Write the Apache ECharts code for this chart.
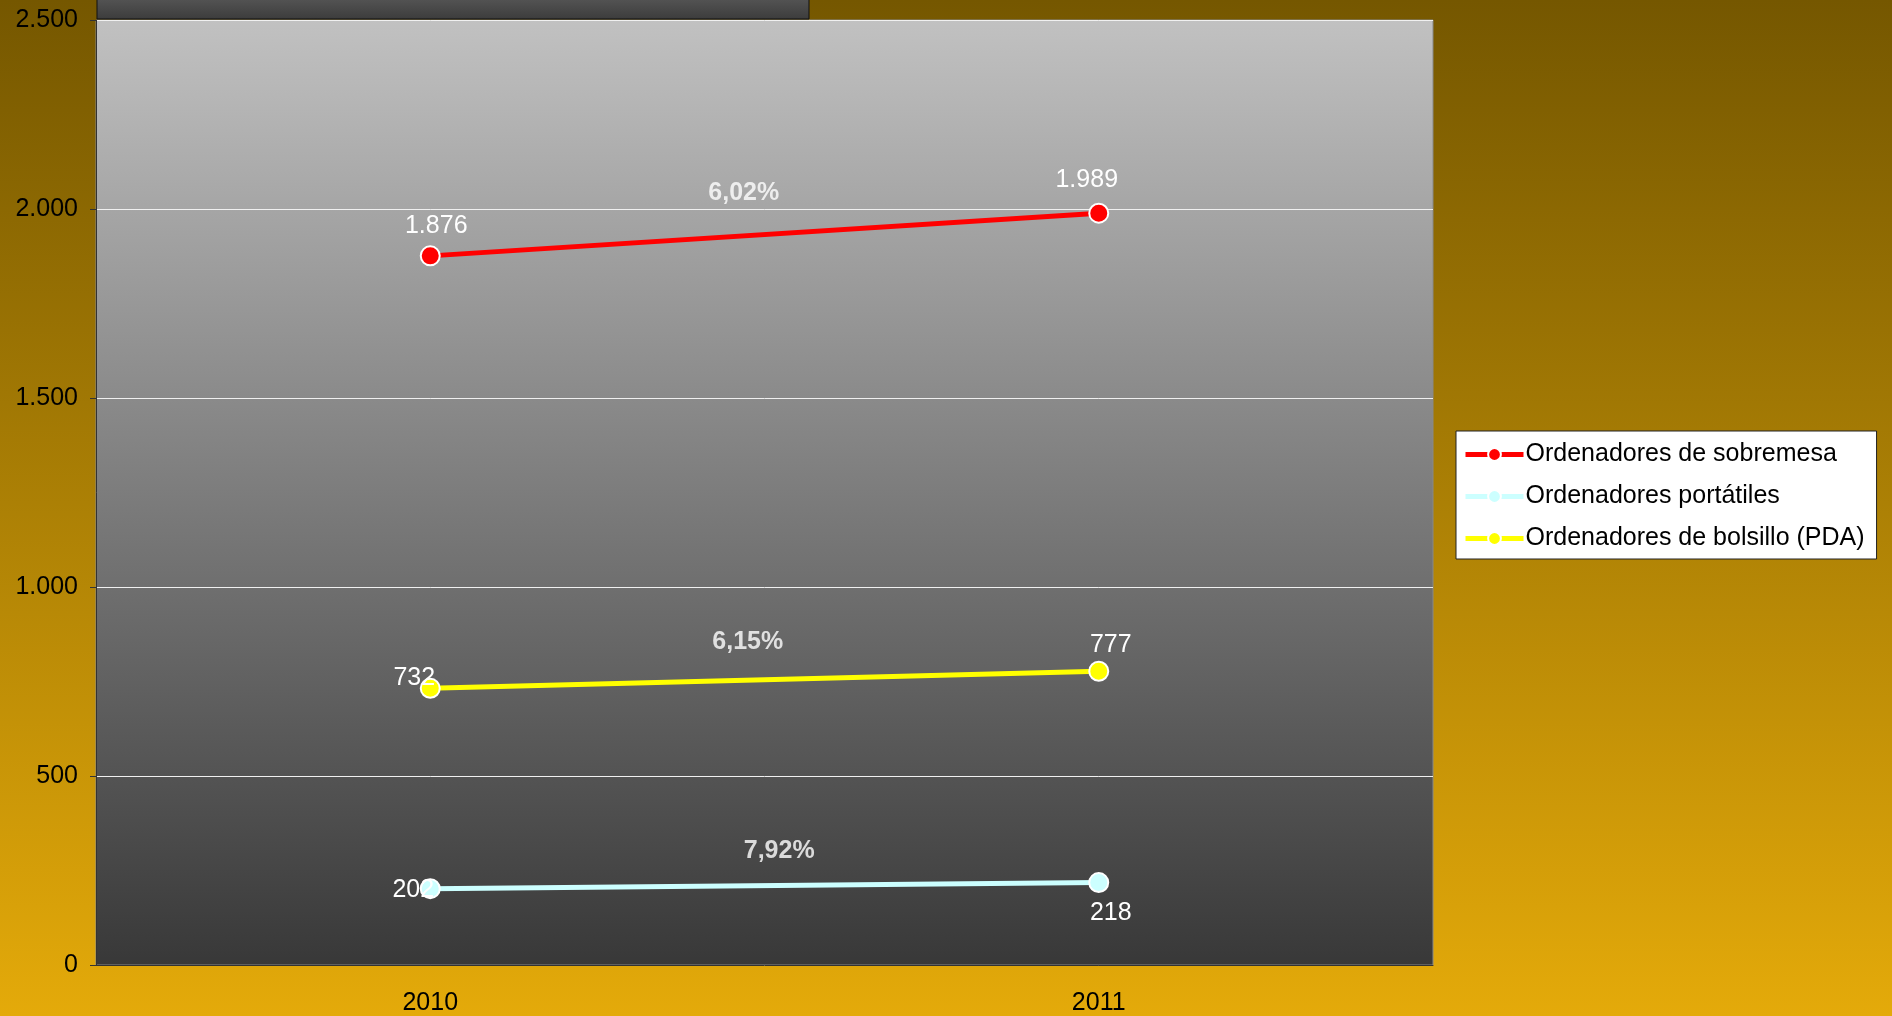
<!DOCTYPE html>
<html>
<head>
<meta charset="utf-8">
<style>
  html, body { margin: 0; padding: 0; }
  #chart { width: 1892px; height: 1016px; }
</style>
<script src="https://cdn.jsdelivr.net/npm/echarts@6/dist/echarts.min.js"></script>
</head>
<body>
<div id="chart"></div>
<script>
  var years = ['2010', '2011']
  var sobremesa = [1876, 1989]
  var portatiles = [202, 218]
  var bolsillo = [732, 777]
  var yTicks = [0, 500, 1000, 1500, 2000, 2500]
  // growth notes: [x position between the years (0..2), y value, text]
  var growthNotes = [
    [0.969, 2042, '6,02%'],
    [0.975, 854, '6,15%'],
    [1.022, 302, '7,92%']
  ]

  function fmt(v) {
    return String(v).replace(/\B(?=(\d{3})+(?!\d))/g, '.')
  }

  var labelFont = { color: '#fff', fontSize: 25, fontFamily: 'Liberation Sans, Arial, sans-serif' }

  function pointLabels(values, offsets) {
    return values.map(function (v, i) {
      return {
        value: v,
        label: Object.assign({ show: true, position: 'top', distance: 0, offset: offsets[i], formatter: fmt(v) }, labelFont)
      }
    })
  }

  var chart = echarts.init(document.getElementById('chart'))
  chart.setOption({
    backgroundColor: new echarts.graphic.LinearGradient(0, 0, 0, 1, [
      { offset: 0, color: '#755700' },
      { offset: 1, color: '#e4aa0a' }
    ]),
    animation: false,
    textStyle: { fontFamily: 'Liberation Sans, Arial, sans-serif' },
    grid: {
      left: 96, right: 459, top: 20, bottom: 51,
      show: true,
      borderColor: '#888',
      borderWidth: 1,
      backgroundColor: new echarts.graphic.LinearGradient(0, 0, 0, 1, [
        { offset: 0, color: '#c1c1c1' },
        { offset: 1, color: '#383838' }
      ])
    },
    graphic: [{
      type: 'rect',
      shape: { x: 97, y: -2, width: 712, height: 21 },
      style: {
        fill: new echarts.graphic.LinearGradient(0, 0, 0, 1, [
          { offset: 0, color: '#555' },
          { offset: 1, color: '#3c3c3c' }
        ]),
        stroke: '#111',
        lineWidth: 1
      }
    }],
    legend: {
      data: ['Ordenadores de sobremesa', 'Ordenadores portátiles', 'Ordenadores de bolsillo (PDA)'],
      orient: 'vertical',
      left: 1456,
      top: 431,
      backgroundColor: '#fff',
      borderColor: '#222',
      borderWidth: 1,
      borderRadius: 0,
      padding: [11, 12, 8, 7],
      itemGap: 17,
      itemWidth: 58,
      itemHeight: 16,
      lineStyle: { width: 5 },
      textStyle: { color: '#000', fontSize: 25, padding: [0, 0, 0, -3] }
    },
    xAxis: [{
      type: 'category',
      data: years,
      axisLine: { lineStyle: { color: '#333', width: 1 } },
      axisTick: { length: 6, lineStyle: { color: '#333' } },
      axisLabel: { color: '#000', fontSize: 25, margin: 26 },
      splitLine: { show: false }
    }, {
      type: 'value',
      min: 0, max: 2,
      show: false
    }],
    yAxis: {
      type: 'value',
      min: 0, max: 2500, interval: 500,
      axisLine: { show: true, lineStyle: { color: '#333' } },
      axisTick: { show: true, length: 6, lineStyle: { color: '#333' } },
      axisLabel: { color: '#000', fontSize: 25, margin: 18, formatter: function (v) { return fmt(v) } },
      splitLine: { lineStyle: { color: '#f0f0f0', width: 1 } }
    },
    series: [{
      name: 'Ordenadores de sobremesa',
      type: 'line',
      data: pointLabels(sobremesa, [[6, -7], [-12, -10]]),
      color: '#ff0000',
      lineStyle: { width: 5, color: '#ff0000' },
      symbol: 'circle', symbolSize: 19,
      itemStyle: { color: '#ff0000', borderColor: '#fff', borderWidth: 2 }
    }, {
      name: 'Ordenadores portátiles',
      type: 'line',
      data: pointLabels(portatiles, [[-17, 24], [12, 54]]),
      color: '#ccffff',
      lineStyle: { width: 5, color: '#ccffff' },
      symbol: 'circle', symbolSize: 19,
      itemStyle: { color: '#ccffff', borderColor: '#fff', borderWidth: 2 }
    }, {
      name: 'Ordenadores de bolsillo (PDA)',
      type: 'line',
      data: pointLabels(bolsillo, [[-16, 13], [12, -3]]),
      color: '#ffff00',
      lineStyle: { width: 5, color: '#ffff00' },
      symbol: 'circle', symbolSize: 19,
      itemStyle: { color: '#ffff00', borderColor: '#fff', borderWidth: 2 }
    }, {
      name: 'notes',
      type: 'scatter',
      xAxisIndex: 1,
      data: growthNotes,
      symbolSize: 0,
      silent: true,
      label: {
        show: true,
        position: 'inside',
        color: '#fff',
        fontSize: 25,
        fontWeight: 'bold',
        formatter: function (p) { return p.data[2] }
      }
    }]
  })
</script>
</body>
</html>
